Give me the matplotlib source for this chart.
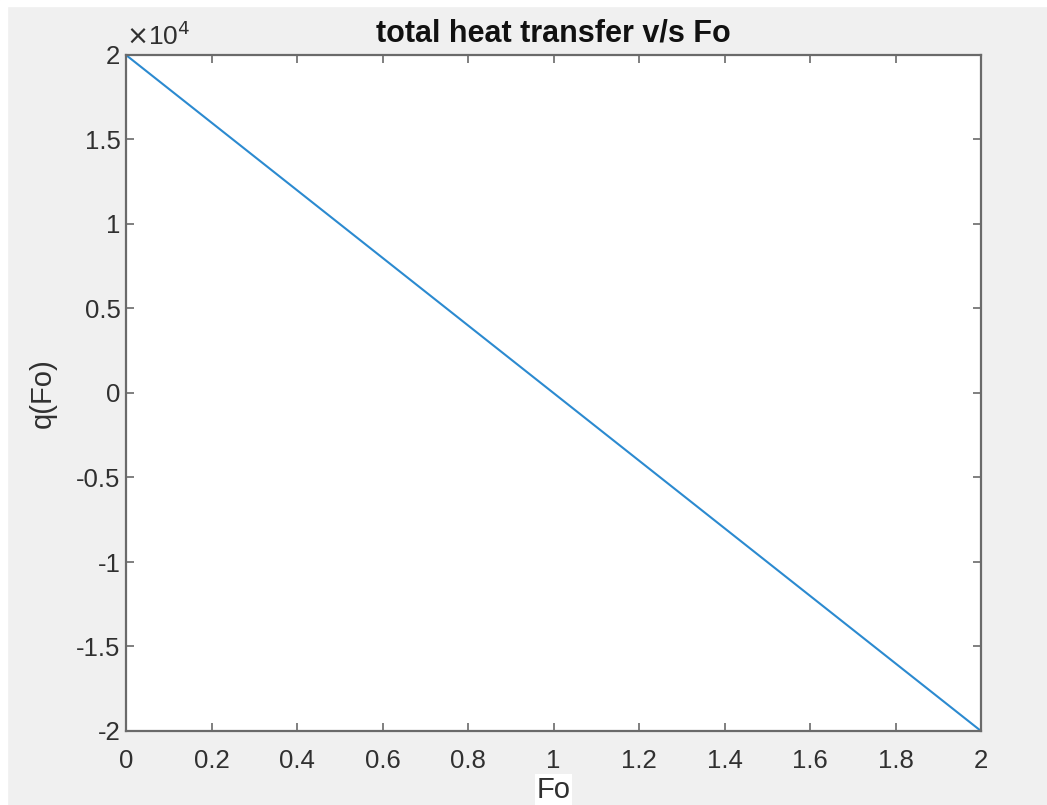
import matplotlib.pyplot as plt
from matplotlib.patches import Rectangle
from matplotlib.ticker import FuncFormatter

# values
fo = [0, 0.5, 1.0, 1.5, 2.0]
q = [20000, 10000, 0, -10000, -20000]
x_ticks = [0, 0.2, 0.4, 0.6, 0.8, 1.0, 1.2, 1.4, 1.6, 1.8, 2.0]
y_ticks = [-20000, -15000, -10000, -5000, 0, 5000, 10000, 15000, 20000]

plt.rcParams['font.family'] = ['Liberation Sans', 'DejaVu Sans']
plt.rcParams['axes.unicode_minus'] = False

W, H = 1047, 805
fig = plt.figure(figsize=(W / 100, H / 100), dpi=100, facecolor='#f0f0f0')

# white strips of the screenshot edges
fig.patches.append(Rectangle((0, 1 - 6 / H), 1, 6 / H, transform=fig.transFigure,
                             color='white', zorder=0))
fig.patches.append(Rectangle((0, 0), 7 / W, 1, transform=fig.transFigure,
                             color='white', zorder=0))

left, right, top, bottom = 126, 981, 55, 731
ax = fig.add_axes([left / W, 1 - bottom / H, (right - left) / W, (bottom - top) / H])
ax.set_facecolor('white')

ax.plot(fo, q, color='#2b8ad0', lw=1.5)

ax.set_xlim(0, 2)
ax.set_ylim(-20000, 20000)
ax.set_xticks(x_ticks)
ax.set_yticks(y_ticks)
ax.xaxis.set_major_formatter(FuncFormatter(lambda v, p: f"{v:g}"))
ax.yaxis.set_major_formatter(FuncFormatter(lambda v, p: f"{v / 1e4:g}"))

edge = '#6a6a6a'
for s in ax.spines.values():
    s.set_color(edge)
    s.set_linewidth(1.6)
ax.tick_params(direction='in', length=6, width=1.2, color=edge,
               labelsize=18.5, labelcolor='#303030', top=True, right=True)
ax.tick_params(axis='x', pad=13)
ax.tick_params(axis='y', pad=4)

ax.text(0.0, 1.008, r'$\times$10$^{4}$', transform=ax.transAxes, fontsize=19,
        color='#303030', ha='left', va='bottom')

ax.set_title('total heat transfer v/s Fo', fontsize=22, fontweight='bold',
             color='#111111', pad=10)
ax.set_ylabel('q(Fo)', fontsize=21, color='#303030', labelpad=14)
ax.set_xlabel('Fo', fontsize=21, color='#303030', labelpad=2,
              bbox=dict(facecolor='white', edgecolor='none', pad=1))

fig.savefig('out.png', dpi=100, facecolor=fig.get_facecolor())
